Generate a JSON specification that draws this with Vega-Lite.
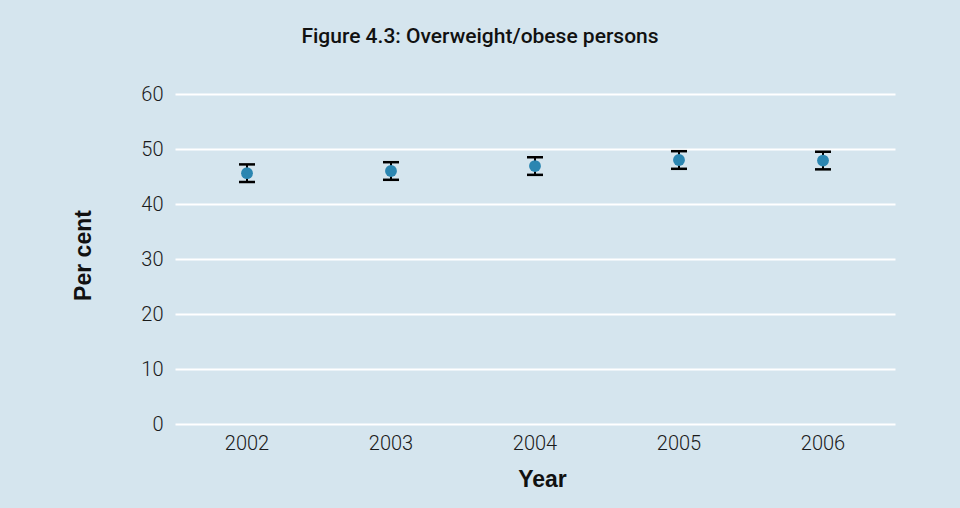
{
  "$schema": "https://vega.github.io/schema/vega-lite/v6.json",
  "autosize": {"type": "none"},
  "width": 720,
  "height": 330,
  "padding": {"left": 175, "top": 94, "right": 65, "bottom": 84},
  "background": "#d5e5ee",
  "title": {
    "text": "Figure 4.3: Overweight/obese persons",
    "font": "Roboto",
    "fontSize": 21,
    "fontWeight": 500,
    "color": "#111111",
    "anchor": "middle",
    "dx": -55,
    "offset": 37
  },
  "data": {
    "values": [
      {"Year": "2002", "value": 45.6, "lower": 44.0, "upper": 47.2},
      {"Year": "2003", "value": 46.0, "lower": 44.4, "upper": 47.6},
      {"Year": "2004", "value": 46.9, "lower": 45.3, "upper": 48.5},
      {"Year": "2005", "value": 48.0, "lower": 46.4, "upper": 49.6},
      {"Year": "2006", "value": 47.9, "lower": 46.3, "upper": 49.5}
    ]
  },
  "encoding": {
    "x": {
      "field": "Year",
      "type": "ordinal",
      "scale": {"type": "band", "paddingInner": 0, "paddingOuter": 0},
      "axis": {
        "title": "Year",
        "labelAngle": 0,
        "labelFont": "Roboto",
        "labelFontWeight": 300,
        "labelFontSize": 20,
        "labelColor": "#1a1a1a",
        "labelPadding": 9,
        "domain": false,
        "ticks": false,
        "grid": false,
        "titleFont": "Liberation Sans",
        "titleFontSize": 23,
        "titleFontWeight": "bold",
        "titleColor": "#111111",
        "titleX": 367,
        "titleY": 55,
        "titleAlign": "center",
        "titleBaseline": "middle"
      }
    }
  },
  "layer": [
    {
      "mark": {"type": "rule", "color": "#000000", "strokeWidth": 2},
      "encoding": {
        "y": {
          "field": "lower",
          "type": "quantitative",
          "scale": {"domain": [0, 60], "nice": false, "zero": true},
          "axis": {
            "title": "Per cent",
            "values": [0, 10, 20, 30, 40, 50, 60],
            "labelFont": "Roboto",
            "labelFontWeight": 300,
            "labelFontSize": 20,
            "labelColor": "#1a1a1a",
            "labelPadding": 12,
            "domain": false,
            "ticks": false,
            "grid": true,
            "gridColor": "#ffffff",
            "gridWidth": 2,
            "gridOpacity": 1,
            "titleFont": "Liberation Sans",
            "titleFontSize": 23,
            "titleFontWeight": "bold",
            "titleColor": "#111111",
            "titleX": -92,
            "titleY": 161,
            "titleAngle": -90,
            "titleAlign": "center",
            "titleBaseline": "middle"
          }
        },
        "y2": {"field": "upper"}
      }
    },
    {
      "mark": {"type": "tick", "color": "#000000", "opacity": 1, "thickness": 2.5, "size": 16, "orient": "horizontal"},
      "encoding": {"y": {"field": "lower", "type": "quantitative"}}
    },
    {
      "mark": {"type": "tick", "color": "#000000", "opacity": 1, "thickness": 2.5, "size": 16, "orient": "horizontal"},
      "encoding": {"y": {"field": "upper", "type": "quantitative"}}
    },
    {
      "mark": {"type": "point", "shape": "circle", "filled": true, "color": "#2b86b1", "opacity": 1, "size": 140},
      "encoding": {"y": {"field": "value", "type": "quantitative"}}
    }
  ],
  "config": {"view": {"stroke": null}}
}
